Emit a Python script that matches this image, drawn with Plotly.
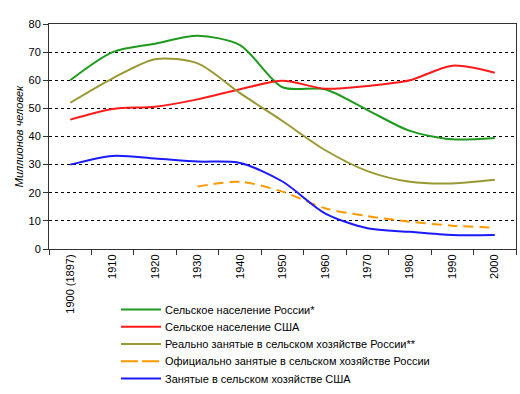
import plotly.graph_objects as go

years = ["1900 (1897)", "1910", "1920", "1930", "1940", "1950", "1960", "1970", "1980", "1990", "2000"]
rus_rural = [60, 70, 73, 75.8, 72.5, 57.5, 56.8, 49.4, 42, 39, 39.5]
usa_rural = [46, 49.8, 50.6, 53.2, 56.8, 59.8, 57, 58, 60, 65.2, 62.7]
rus_real_agri = [52, 60.7, 67.5, 66, 55.4, 45.5, 35.2, 27.7, 23.9, 23.3, 24.6]
rus_official_agri = [None, None, None, 22.2, 23.9, 20.4, 14.5, 11.7, 9.7, 8.3, 7.6]
usa_agri = [30, 33.1, 32.2, 31.1, 30.6, 24, 12.7, 7.4, 6.1, 5, 5]

names = [
    "Сельское население России*",
    "Сельское население США",
    "Реально занятые в сельском хозяйстве России**",
    "Официально занятые в сельском хозяйстве России",
    "Занятые в сельском хозяйстве США",
]
yticks = [0, 10, 20, 30, 40, 50, 60, 70, 80]

series = [rus_rural, usa_rural, rus_real_agri, rus_official_agri, usa_agri]
colors = ["#1f9a1f", "#ff1a1a", "#999933", "#ff9900", "#1a1aff"]
dashes = ["solid", "solid", "solid", "10px,6px", "solid"]
legend_dashes = ["solid", "solid", "solid", "17px,4px", "solid"]

W, H = 520, 394
L, R, T, B = 49, 4, 24, 145
pw, ph = W - L - R, H - T - B

fig = go.Figure()
for s, n, c, d in zip(series, names, colors, dashes):
    fig.add_trace(go.Scatter(
        x=years, y=s, name=n, mode="lines", showlegend=False,
        line=dict(color=c, width=2, dash=d, shape="spline", smoothing=0.8),
        connectgaps=False,
    ))

# legend drawn below the plot (Excel-like spacing)
row0, step = 309.5, 17.25
x0p, x1p, xtp = 121, 161, 163
for i, (n, c, d) in enumerate(zip(names, colors, legend_dashes)):
    yp = (H - B - (row0 + i * step)) / ph
    fig.add_shape(type="line", xref="paper", yref="paper",
                  x0=(x0p - L) / pw, x1=(x1p - L) / pw, y0=yp, y1=yp,
                  line=dict(color=c, width=2, dash=d))
    fig.add_annotation(xref="paper", yref="paper", x=(xtp - L) / pw, y=yp,
                       xanchor="left", yanchor="middle", showarrow=False,
                       text=n, font=dict(size=11, color="#000000"))

fig.update_layout(
    width=W, height=H,
    margin=dict(l=L, r=R, t=T, b=B),
    plot_bgcolor="white", paper_bgcolor="white",
    font=dict(family="Liberation Sans, Arial, sans-serif", size=11, color="#000000"),
    showlegend=False,
)
fig.update_xaxes(
    type="category", range=[-0.5, 10.5],
    tickson="boundaries", ticks="outside", ticklen=5, tickcolor="#333333",
    tickangle=-90, tickfont=dict(size=11),
    showline=True, linecolor="#333333", linewidth=1, mirror=True,
    showgrid=False, zeroline=False,
)
fig.update_yaxes(
    range=[0, 80], tickvals=yticks, ticks="outside", ticklen=5, tickcolor="#333333",
    showline=True, linecolor="#333333", linewidth=1, mirror=True,
    showgrid=True, gridcolor="#000000", griddash="3px,3px", gridwidth=1,
    zeroline=False, tickfont=dict(size=11),
    title=dict(text="<i>Миллионов человек</i>", font=dict(size=11), standoff=2),
)

fig.write_html("out.html", config={"displayModeBar": False},
               post_script="document.body.style.margin='0';")
